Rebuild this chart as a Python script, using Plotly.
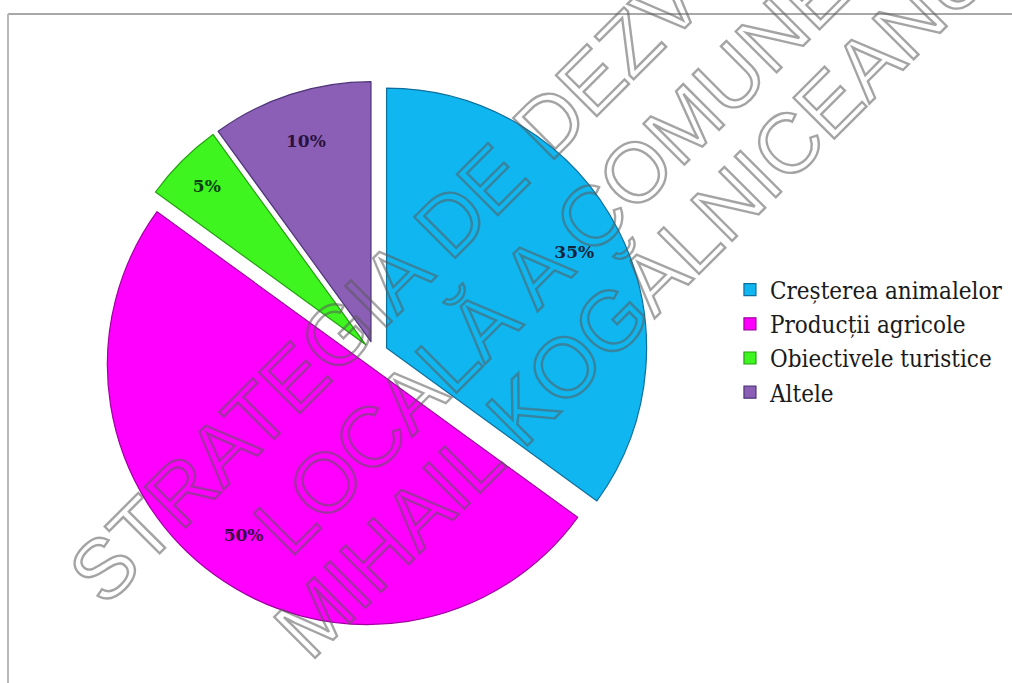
import plotly.graph_objects as go

# ---- data ----
categories = ["Creșterea animalelor", "Producții agricole", "Obiectivele turistice", "Altele"]
values = [35, 50, 5, 10]
slice_colors = ["#10B6EF", "#FF00FF", "#3EF51F", "#8A5FB5"]
edge_colors = ["#0E6F9C", "#A000A0", "#24A010", "#4E3478"]
label_colors = ["#10233A", "#3A0848", "#0B4010", "#2A1240"]
watermark_lines = ["STRATEGIA DE DEZVOLTARE", "LOCALĂ A COMUNEI", "MIHAIL KOGĂLNICEANU"]
watermark_centers = [(500, 172), (560, 248), (632, 300)]  # pixel centres

W, H = 1012, 683
pie_domain = dict(x=[0.1008, 0.6403], y=[0.0820, 0.8814])
pulls = [0.05, 0.05, 0.05, 0.05]

fig = go.Figure()
# coloured slices
fig.add_trace(go.Pie(
    labels=categories,
    values=values,
    sort=False,
    direction="clockwise",
    rotation=0,
    pull=pulls,
    marker=dict(colors=slice_colors, line=dict(color=edge_colors, width=1.2)),
    textinfo="none",
    domain=pie_domain,
    hoverinfo="label+percent",
))
# same slices, transparent ring, carrying the percentage labels near the rim
fig.add_trace(go.Pie(
    labels=categories,
    values=values,
    sort=False,
    direction="clockwise",
    rotation=0,
    pull=pulls,
    hole=0.62,
    marker=dict(colors=["rgba(0,0,0,0)"] * 4, line=dict(width=0)),
    textinfo="percent",
    textposition="inside",
    insidetextorientation="horizontal",
    insidetextfont=dict(family="DejaVu Serif", size=17, color=label_colors, weight="bold"),
    domain=pie_domain,
    showlegend=False,
    hoverinfo="skip",
))

for txt, (cx, cy) in zip(watermark_lines, watermark_centers):
    fig.add_annotation(
        x=cx / W, y=1 - cy / H, xref="paper", yref="paper",
        text=txt, showarrow=False, textangle=-45,
        xanchor="center", yanchor="middle",
        font=dict(family="Liberation Sans", size=84, color="rgba(120,120,120,0.5)"),
    )

# chart frame (top and left edges visible)
fig.add_shape(type="line", xref="paper", yref="paper",
              x0=8 / W, x1=1.0, y0=1 - 14 / H, y1=1 - 14 / H,
              line=dict(color="#A8A8A8", width=2))
fig.add_shape(type="line", xref="paper", yref="paper",
              x0=8 / W, x1=8 / W, y0=0.0, y1=1 - 14 / H,
              line=dict(color="#B8B8B8", width=2))

fig.update_layout(
    width=W, height=H,
    margin=dict(l=0, r=0, t=0, b=0),
    paper_bgcolor="white",
    plot_bgcolor="white",
    showlegend=True,
    legend=dict(
        x=0.7213, y=0.5007, xanchor="left", yanchor="middle",
        font=dict(family="DejaVu Serif Condensed, DejaVu Serif", size=24, color="#1A1A1A"),
        bgcolor="rgba(0,0,0,0)",
        itemwidth=30,
    ),
)

post = """
document.body.style.margin = '0';
document.body.style.overflow = 'hidden';
var gd = document.getElementById('{plot_id}');
gd.querySelectorAll('.annotation-text').forEach(function(t){
  t.style.fill = 'none';
  t.style.stroke = 'rgba(90,90,90,0.55)';
  t.style.strokeWidth = '2.4px';
});
"""

fig.write_html("out.html", post_script=post, config={"displayModeBar": False})
